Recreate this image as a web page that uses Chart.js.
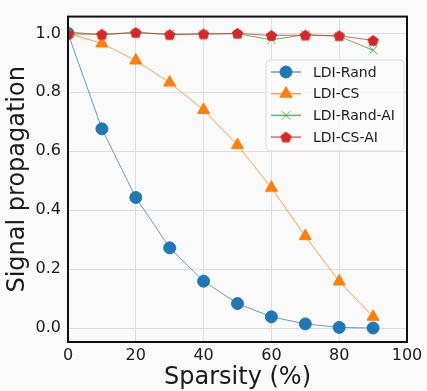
<!DOCTYPE html>
<html><head><meta charset="utf-8">
<script src="https://cdn.jsdelivr.net/npm/chart.js@4/dist/chart.umd.min.js"></script>
<style>html,body{margin:0;padding:0;background:#fafafa;overflow:hidden;}</style>
</head><body>
<canvas id="c" width="427" height="391"></canvas>
<script>
const sparsity=[0,10,20,30,40,50,60,70,80,90];
const ldiRand=[1.0,0.676,0.443,0.272,0.159,0.083,0.038,0.014,0.002,0.0];
const ldiCS=[1.0,0.966,0.908,0.833,0.740,0.621,0.476,0.312,0.158,0.038];
const ldiRandAI=[1.005,0.995,1.003,0.997,0.998,0.999,0.978,0.996,0.990,0.943];
const ldiCSAI=[0.998,0.997,1.003,0.996,0.998,1.000,0.993,0.994,0.992,0.976];
const xTicks=[0,20,40,60,80,100];
const yTicks=[0,0.2,0.4,0.6,0.8,1.0];
const seriesNames=['LDI-Rand','LDI-CS','LDI-Rand-AI','LDI-CS-AI'];

const FONT='"DejaVu Sans", sans-serif';
const TXT='#1a1a1a';

function pentagon(color,size){
  const c=document.createElement('canvas');c.width=size;c.height=size;
  const g=c.getContext('2d');const r=size/2-0.5;const cx=size/2,cy=size/2+0.5;
  g.beginPath();
  for(let i=0;i<5;i++){const a=-Math.PI/2+i*2*Math.PI/5;const px=cx+r*Math.cos(a),py=cy+r*Math.sin(a);i?g.lineTo(px,py):g.moveTo(px,py);}
  g.closePath();g.fillStyle=color;g.fill();return c;
}
const pts=a=>sparsity.map((x,i)=>({x:x,y:a[i]}));

const datasets=[
 {label:seriesNames[0],data:pts(ldiRand),borderColor:'rgba(31,119,180,0.7)',backgroundColor:'#1f77b4',pointBackgroundColor:'#1f77b4',pointBorderColor:'#1f77b4',pointStyle:'circle',pointRadius:6,pointBorderWidth:1,borderWidth:1,order:4},
 {label:seriesNames[1],data:pts(ldiCS),borderColor:'rgba(255,127,14,0.75)',backgroundColor:'#ff7f0e',pointBackgroundColor:'#ff7f0e',pointBorderColor:'#ff7f0e',pointStyle:'triangle',pointRadius:7,pointBorderWidth:1,borderWidth:1,order:3},
 {label:seriesNames[2],data:pts(ldiRandAI),borderColor:'rgba(44,160,44,0.75)',backgroundColor:'#2ca02c',pointBackgroundColor:'#2ca02c',pointBorderColor:'rgba(44,160,44,0.8)',pointStyle:'crossRot',pointRadius:6,pointBorderWidth:1,borderWidth:1,order:2},
 {label:seriesNames[3],data:pts(ldiCSAI),borderColor:'rgba(214,39,40,0.7)',backgroundColor:'#d62728',pointBackgroundColor:'#d62728',pointBorderColor:'#d62728',pointStyle:pentagon('#d62728',13),pointRadius:6,pointBorderWidth:1,borderWidth:1,order:1}
];
datasets.forEach(d=>{d.clip=0;d.tension=0;d.fill=false;});

const framePlugin={id:'frame',afterDraw(chart){
  const {ctx,chartArea:a}=chart;ctx.save();
  ctx.strokeStyle='#111';ctx.lineWidth=2;ctx.strokeRect(a.left,a.top,a.right-a.left,a.bottom-a.top);
  // legend
  const bx=266,by=60,bw=138,bh=91,r=4;
  ctx.beginPath();ctx.moveTo(bx+r,by);ctx.arcTo(bx+bw,by,bx+bw,by+bh,r);ctx.arcTo(bx+bw,by+bh,bx,by+bh,r);ctx.arcTo(bx,by+bh,bx,by,r);ctx.arcTo(bx,by,bx+bw,by,r);ctx.closePath();
  ctx.fillStyle='rgba(250,250,250,0.85)';ctx.fill();ctx.strokeStyle='#dcdcdc';ctx.lineWidth=1;ctx.stroke();
  chart.data.datasets.forEach((d,i)=>{
    const y=72+i*21.7;
    ctx.strokeStyle=d.borderColor;ctx.lineWidth=1.5;ctx.beginPath();ctx.moveTo(271,y);ctx.lineTo(301,y);ctx.stroke();
    ctx.fillStyle=d.pointBackgroundColor;ctx.strokeStyle=d.pointBorderColor;ctx.lineWidth=1;
    Chart.helpers.drawPoint(ctx,{pointStyle:d.pointStyle,radius:d.pointRadius,rotation:0,borderWidth:1},286,y);
    ctx.fillStyle=TXT;ctx.font='14px '+FONT;ctx.textBaseline='middle';ctx.textAlign='left';
    ctx.fillText(d.label,313,y+1);
  });
  ctx.restore();
}};

new Chart(document.getElementById('c'),{
  type:'line',
  data:{datasets:datasets},
  plugins:[framePlugin],
  options:{
    responsive:false,devicePixelRatio:1,animation:false,
    layout:{padding:{top:5,right:20,left:0,bottom:0}},
    plugins:{legend:{display:false},tooltip:{enabled:false}},
    scales:{
      x:{type:'linear',min:0,max:100,
        afterBuildTicks:s=>{s.ticks=xTicks.map(v=>({value:v}));},
        afterFit:s=>{s.height=49;},
        grid:{color:'#dedede',lineWidth:1,drawTicks:false},
        border:{display:false},
        ticks:{font:{family:FONT,size:16},color:TXT,padding:4,maxRotation:0,autoSkip:false},
        title:{display:true,text:'Sparsity (%)',font:{family:FONT,size:24},color:TXT,padding:{top:0,bottom:-1}}
      },
      y:{type:'linear',min:-0.0475,max:1.057,
        afterBuildTicks:s=>{s.ticks=yTicks.map(v=>({value:v}));},
        afterFit:s=>{s.width=68;},
        grid:{color:'#dedede',lineWidth:1,drawTicks:false},
        border:{display:false},
        ticks:{font:{family:FONT,size:16},color:TXT,padding:7,callback:v=>v.toFixed(1)},
        title:{display:true,text:'Signal propagation',font:{family:FONT,size:24},color:TXT,padding:{top:3.5,bottom:0}}
      }
    }
  }
});
</script>
</body></html>
